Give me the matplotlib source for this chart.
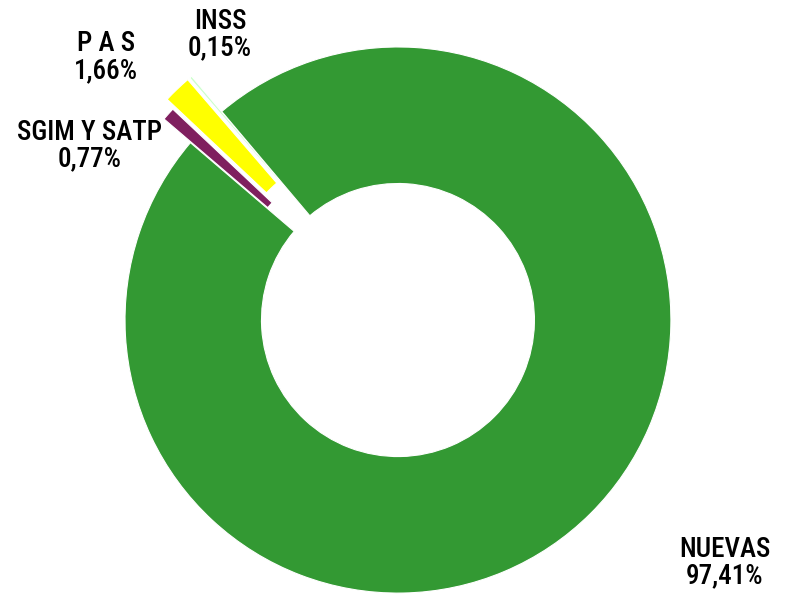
import matplotlib.pyplot as plt
from matplotlib import font_manager

# data
labels = ['SGIM Y SATP', 'P A S', 'INSS', 'NUEVAS']
values = [0.77, 1.66, 0.15, 97.41]
colors = ['#7F1F5F', '#FFFF00', '#CCFFCC', '#339933']
explode = [0.13, 0.17, 0.17, 0]

names = [f.name for f in font_manager.fontManager.ttflist]
fam = 'Liberation Sans Narrow' if 'Liberation Sans Narrow' in names else 'Roboto Condensed'
plt.rcParams['font.family'] = [fam, 'DejaVu Sans']

fig = plt.figure(figsize=(7.91, 5.95), dpi=100)
ax = fig.add_axes([0, 0, 1, 1])
ax.pie(values, colors=colors, explode=explode, startangle=139.5, counterclock=False,
       wedgeprops=dict(width=0.5, edgecolor='white', linewidth=0.8))
ax.set_xlim(-1.458, 1.440)
ax.set_ylim(-1.007, 1.172)
ax.set_aspect('auto')
ax.axis('off')

# labels with percentage (comma decimal)
pos = [(-1.13, 0.64), (-1.07, 0.963), (-0.652, 1.044), (1.198, -0.89)]
for lab, v, (x, y) in zip(labels, values, pos):
    txt = lab + '\n' + f'{v:.2f}'.replace('.', ',') + '%'
    ax.text(x, y, txt, ha='center', va='center', fontsize=19.5, linespacing=0.97,
            color='black', fontweight='medium')

fig.savefig('out.png', dpi=100)
